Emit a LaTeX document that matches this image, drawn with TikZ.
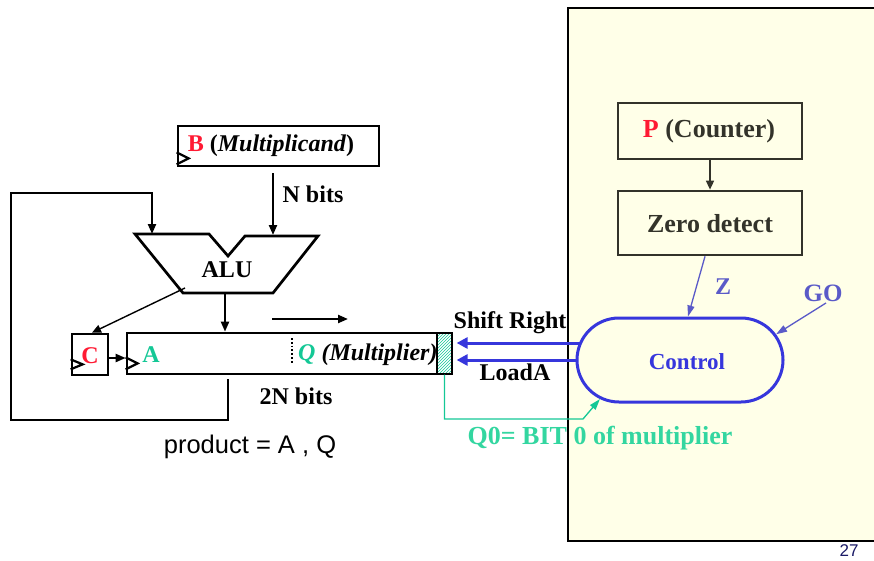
\documentclass[tikz,border=0pt]{standalone}
\usepackage{fontspec}
\setmainfont{Liberation Serif}
\newfontfamily\arialfont{Liberation Sans}
\usetikzlibrary{arrows.meta,patterns,shapes.misc,calc}

\definecolor{regred}{HTML}{FF1A33}
\definecolor{qgreen}{HTML}{14C896}
\definecolor{ctrlblue}{HTML}{3636DC}
\definecolor{sigblue}{HTML}{5A5AC8}
\definecolor{panelfill}{HTML}{FFFFE8}
\definecolor{olive}{HTML}{33332A}
\definecolor{qzero}{HTML}{33D6A0}
\definecolor{pagenum}{HTML}{1A1A66}

\tikzset{
  regbox/.style={draw=black, line width=2.7pt, fill=white, inner sep=0pt},
  ctlbox/.style={draw=olive, line width=2.7pt, fill=panelfill, inner sep=0pt},
  wire/.style={line width=2.2pt, -{Triangle[length=10pt,width=8pt]}},
  thinwire/.style={line width=1.3pt, -{Triangle[length=11pt,width=7pt]}},
  clk/.style={line width=2.2pt},
  bigtxt/.style={font=\fontsize{24}{28}\selectfont\bfseries, inner sep=0pt},
  paneltxt/.style={font=\fontsize{26}{30}\selectfont\bfseries, text=olive, inner sep=0pt},
}

\begin{document}
\begin{tikzpicture}[x=1pt,y=-1pt]
\useasboundingbox (0,0) rectangle (874,561);

% control unit panel
\fill[panelfill] (568,8) rectangle (880,541);
\draw[line width=2.7pt] (880,8) -- (568,8) -- (568,541) -- (880,541);

% ---------- datapath ----------
% multiplicand register
\node[regbox, minimum width=201pt, minimum height=40pt] (breg) at (278.5,146) {};
\node[bigtxt] (btxt) at (271,146) {\textcolor{regred}{B} (\textit{Multiplicand})};
\draw[clk] ($(breg.south west)+(0,-15)$) -- ++(12,6) -- ++(-12,6);

% ALU outline
\draw[line width=2.7pt, line join=miter]
  (135,234) -- (209,234) -- (228,256) -- (245,236) -- (318,236)
  -- (273,293) -- (183,293) -- cycle;
\node[bigtxt] (alu) at (227,270) {ALU};
\coordinate (aluL) at (152,234);
\coordinate (aluR) at (273,235);
\coordinate (aluOut) at (225,293);
\coordinate (aluCo) at (185,288);

% carry flip-flop and A/Q register
\node[regbox, minimum width=36pt, minimum height=41pt] (creg) at (90,354.5) {};
\node[bigtxt, text=regred] (ctxt) at (90,356) {C};
\draw[clk] ($(creg.south west)+(0,-17)$) -- ++(12,5) -- ++(-12,5);

\node[regbox, minimum width=325pt, minimum height=41pt] (areg) at (289.5,353.5) {};
\draw[clk] ($(areg.south west)+(0,-18)$) -- ++(12,6) -- ++(-12,6);
\node[bigtxt, text=qgreen] (atxt) at (151,355) {A};
\draw[line width=1.8pt, dotted] (292,338) -- (292,364);
\node[bigtxt, anchor=west] (qtxt) at (298,355) {\textcolor{qgreen}{\textit{Q}} \textit{(Multiplier)}};
\node[draw=black, line width=1.2pt, pattern=north east lines, pattern color=qgreen,
      minimum width=15pt, minimum height=41pt, inner sep=0pt] (q0cell) at (444.5,353.5) {};

% datapath wires
\draw[wire, shorten <=6pt] (aluR |- breg.south) -- (aluR);
\node[bigtxt] (nbits) at (313,194) {N bits};
\draw[wire, shorten <=4pt] (areg.south -| 228,0) -- (228,420) -- (11,420) -- (11,193)
  -- (aluL |- 0,193) -- (aluL);
\draw[wire] (aluOut) -- (aluOut |- areg.north);
\draw[line width=1.4pt, -{Triangle[length=9pt,width=8pt]}] (aluCo) -- ($(creg.north)+(2,0)$);
\draw[wire] (creg.east |- 0,358) -- (areg.west |- 0,358);
\draw[line width=2.2pt, -{Triangle[length=10pt,width=8pt]}] (272,319) -- (348,319);
\node[bigtxt] (twonbits) at (296,396) {2N bits};
\node[font=\arialfont\fontsize{25.5}{30}\selectfont, inner sep=0pt] (prod) at (250,447) {product = A , Q};

% ---------- control unit ----------
\node[ctlbox, minimum width=184pt, minimum height=56pt] (pcnt) at (710,131) {};
\node[paneltxt] (ptxt) at (709,131) {\textcolor{regred}{P} (Counter)};
\node[ctlbox, minimum width=184pt, minimum height=64pt] (zdet) at (710,223) {};
\node[paneltxt] (ztxt) at (710,224) {Zero detect};
\draw[line width=1.5pt, draw=olive, -{Triangle[length=9pt,width=8pt]}] (pcnt.south) -- (zdet.north);

\node[rounded rectangle, draw=ctrlblue, line width=3pt, fill=panelfill,
      minimum width=206pt, minimum height=84pt, inner sep=0pt] (ctrl) at (680,360) {};
\node[font=\fontsize{23}{27}\selectfont\bfseries, text=ctrlblue, inner sep=0pt] (ctxtl) at (687,362) {Control};

\draw[thinwire, draw=sigblue] ($(zdet.south)+(-5,0)$) -- ($(ctrl.north)+(8,0)$);
\node[bigtxt, text=sigblue] (zlab) at (723,287) {Z};
\coordinate (gosrc) at (826,303);
\draw[thinwire, draw=sigblue] (gosrc) -- (ctrl.15);
\node[font=\fontsize{25}{30}\selectfont\bfseries, text=sigblue, inner sep=0pt] (golab) at (823,293) {GO};

% control signals into the datapath
\draw[line width=3pt, draw=ctrlblue, -{Triangle[length=11pt,width=11pt]}]
  ($(ctrl.west)+(4,-17)$) -- ($(q0cell.east)+(4,-10.5)$);
\draw[line width=3pt, draw=ctrlblue, -{Triangle[length=11pt,width=11pt]}]
  ($(ctrl.west)+(2,0)$) -- ($(q0cell.east)+(4,6.5)$);
\node[bigtxt] (srlab) at (510,323) {Shift Right};
\node[bigtxt] (ldlab) at (515,372) {LoadA};

% multiplier bit 0 fed back to the controller
\draw[thinwire, draw=qgreen] (q0cell.south) -- (q0cell.south |- 0,419) -- (583,419) -- (ctrl.206);
\node[font=\fontsize{26}{30}\selectfont\bfseries, text=qzero, inner sep=0pt] (q0lab) at (600,438) {Q0= BIT 0 of multiplier};

% page number
\node[font=\arialfont\fontsize{17}{20}\selectfont, text=pagenum, inner sep=0pt] (pnum) at (849,551) {27};
\end{tikzpicture}
\end{document}
